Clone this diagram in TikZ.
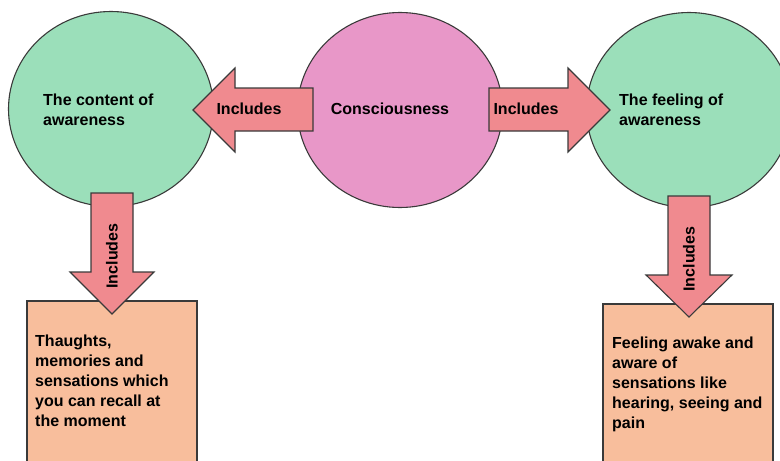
\documentclass[tikz,border=0pt]{standalone}
\usepackage{fontspec}
\setmainfont{Liberation Sans}
\usetikzlibrary{shapes.geometric}
\definecolor{cgreen}{HTML}{9BDFBA}
\definecolor{cpink}{HTML}{E897C8}
\definecolor{carrow}{HTML}{F08A8F}
\definecolor{cbox}{HTML}{F8BE9C}
\definecolor{cline}{HTML}{3A3A3A}
\tikzset{
  outl/.style={draw=cline, line width=1.1pt, line join=miter},
  bubble/.style={outl, ellipse, minimum width=205pt, minimum height=195pt, inner sep=0pt},
  arrowshape/.style={outl, fill=carrow},
  boxshape/.style={outl, fill=cbox},
  lbl/.style={font=\fontsize{16}{20}\selectfont\bfseries, text=black, inner sep=0pt},
  para/.style={lbl, align=left, anchor=north west}
}
\begin{document}
\begin{tikzpicture}[x=1pt,y=-1pt]
\useasboundingbox (0,0) rectangle (780,461);
\clip (0,0) rectangle (780,461);
% circles
\node[bubble, fill=cgreen] (content) at (111,109) {};
\node[bubble, fill=cpink] (consc) at (400,110) {};
\node[bubble, fill=cgreen] (feeling) at (689,110) {};
% boxes
\draw[boxshape] (27,301) rectangle (197,480);
\draw[boxshape] (603,304) rectangle (773,480);
% block arrows
\draw[arrowshape] (313,88) -- (235,88) -- (235,68) -- (193,110) -- (235,152) -- (235,131) -- (313,131) -- cycle;
\draw[arrowshape] (489,88) -- (568,88) -- (568,68) -- (610,110) -- (568,152) -- (568,131) -- (489,131) -- cycle;
\draw[arrowshape] (91,193) -- (133,193) -- (133,272) -- (154,272) -- (112,314) -- (70,272) -- (91,272) -- cycle;
\draw[arrowshape] (668,196) -- (710,196) -- (710,275) -- (732,275) -- (689,317) -- (646,275) -- (668,275) -- cycle;
% texts
\node[lbl] (tconsc) at (390,109) {Consciousness};
\node[para] (tcontent) at (43,94) {The content of\\awareness};
\node[para] (tfeeling) at (619,94) {The feeling of\\awareness};
\node[lbl] (inc1) at (249,109) {Includes};
\node[lbl] (inc2) at (526,109) {Includes};
\node[lbl, rotate=90] (inc3) at (112,256) {Includes};
\node[lbl, rotate=90] (inc4) at (689,259) {Includes};
\node[para] (tthoughts) at (35,335) {Thaughts,\\memories and\\sensations which\\you can recall at\\the moment};
\node[para] (tawake) at (612,337) {Feeling awake and\\aware of\\sensations like\\hearing, seeing and\\pain};
\end{tikzpicture}
\end{document}
